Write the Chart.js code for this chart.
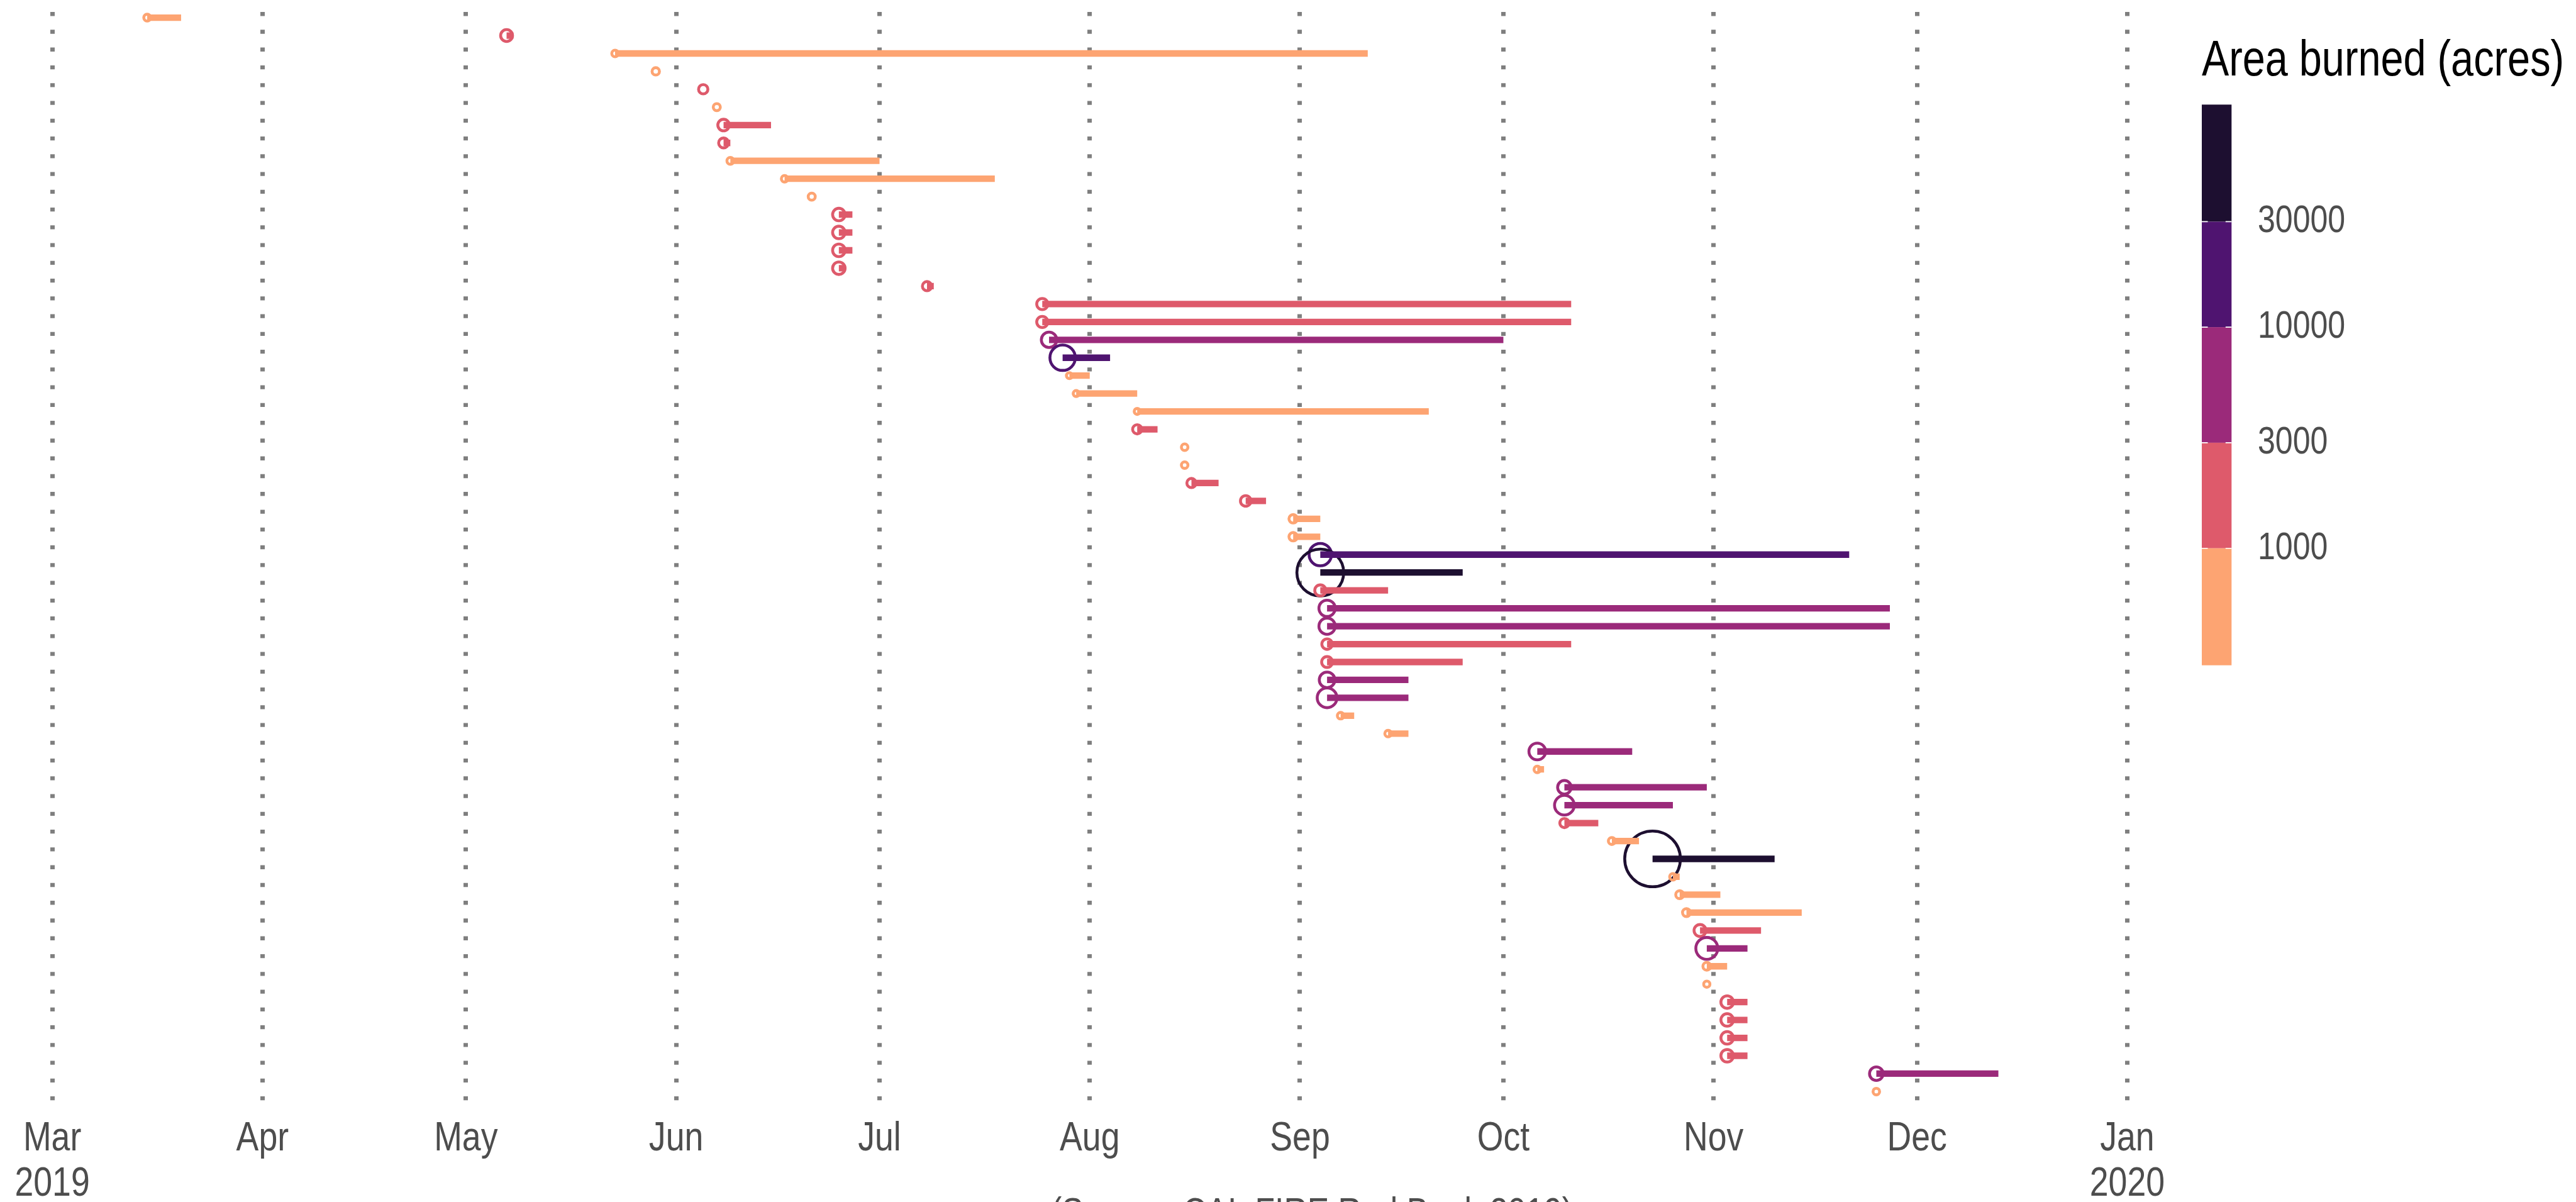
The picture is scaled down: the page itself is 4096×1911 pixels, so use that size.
<!DOCTYPE html>
<html>
<head>
<meta charset="utf-8">
<script src="https://cdn.jsdelivr.net/npm/chart.js@4.4.1/dist/chart.umd.min.js"></script>
<style>
html, body { margin: 0; padding: 0; background: #ffffff; }
canvas { display: block; }
</style>
</head>
<body>
<canvas id="chart" width="4096" height="1911"></canvas>
<script>
// ---------------- DATA ----------------
const startDates = [
  '2019-03-15','2019-05-07','2019-05-23','2019-05-29','2019-06-05','2019-06-07','2019-06-08','2019-06-08',
  '2019-06-09','2019-06-17','2019-06-21','2019-06-25','2019-06-25','2019-06-25','2019-06-25','2019-07-08',
  '2019-07-25','2019-07-25','2019-07-26','2019-07-28','2019-07-29','2019-07-30','2019-08-08','2019-08-08',
  '2019-08-15','2019-08-15','2019-08-16','2019-08-24','2019-08-31','2019-08-31','2019-09-04','2019-09-04',
  '2019-09-04','2019-09-05','2019-09-05','2019-09-05','2019-09-05','2019-09-05','2019-09-05','2019-09-07',
  '2019-09-14','2019-10-06','2019-10-06','2019-10-10','2019-10-10','2019-10-10','2019-10-17','2019-10-23',
  '2019-10-26','2019-10-27','2019-10-28','2019-10-30','2019-10-31','2019-10-31','2019-10-31','2019-11-03',
  '2019-11-03','2019-11-03','2019-11-03','2019-11-25','2019-11-25'
];
const endDates = [
  '2019-03-20','2019-05-08','2019-09-11','2019-05-29','2019-06-05','2019-06-07','2019-06-15','2019-06-09',
  '2019-07-01','2019-07-18','2019-06-21','2019-06-27','2019-06-27','2019-06-27','2019-06-26','2019-07-09',
  '2019-10-11','2019-10-11','2019-10-01','2019-08-04','2019-08-01','2019-08-08','2019-09-20','2019-08-11',
  '2019-08-15','2019-08-15','2019-08-20','2019-08-27','2019-09-04','2019-09-04','2019-11-21','2019-09-25',
  '2019-09-14','2019-11-27','2019-11-27','2019-10-11','2019-09-25','2019-09-17','2019-09-17','2019-09-09',
  '2019-09-17','2019-10-20','2019-10-07','2019-10-31','2019-10-26','2019-10-15','2019-10-21','2019-11-10',
  '2019-10-27','2019-11-02','2019-11-14','2019-11-08','2019-11-06','2019-11-03','2019-10-31','2019-11-06',
  '2019-11-06','2019-11-06','2019-11-06','2019-12-13','2019-11-25'
];
const acresBurned = [
  400, 2200, 350, 520, 1100, 450, 2000, 1300,
  400, 330, 440, 2500, 2500, 2500, 2500, 1050,
  1830, 1830, 4300, 14000, 240, 240, 240, 1050,
  340, 340, 1050, 1540, 800, 800, 10500, 53800,
  1800, 4900, 4900, 1540, 1700, 4400, 7800, 340,
  340, 5200, 340, 3100, 7800, 1050, 440, 77800,
  330, 650, 650, 2200, 9999, 620, 280, 2500,
  2500, 2500, 2500, 3100, 340
];
const monthTickDates = ['2019-03-01','2019-04-01','2019-05-01','2019-06-01','2019-07-01','2019-08-01',
  '2019-09-01','2019-10-01','2019-11-01','2019-12-01','2020-01-01'];
const monthTickLabels = [['Mar','2019'],'Apr','May','Jun','Jul','Aug','Sep','Oct','Nov','Dec',['Jan','2020']];
const legendBreaks = [30000, 10000, 3000, 1000];          // top to bottom
const legendBinColors = ['#1D0F30','#4F1470','#9B2A7A','#DE5A6B','#FDA472']; // top (largest) to bottom
const legendTitle = 'Area burned (acres)';
const captionText = '(Source: CAL FIRE Red Book 2019)';

// ---------------- helpers ----------------
const FONT = "'Liberation Sans', Arial, sans-serif";
const NARROW = 0.82;   // horizontal squeeze to imitate a narrow face
const ORIGIN = Date.UTC(2019, 2, 1);
const dayOf = s => (Date.parse(s + 'T00:00:00Z') - ORIGIN) / 86400000;
const colorFor = a => {
  if (a >= 30000) return legendBinColors[0];
  if (a >= 10000) return legendBinColors[1];
  if (a >= 3000) return legendBinColors[2];
  if (a >= 1000) return legendBinColors[3];
  return legendBinColors[4];
};
const S = 0.817;
const RING_W = 4.6;
const ringRadius = a => ((11.6 + 0.367 * Math.sqrt(a)) * S) / 2 - RING_W / 2;

const rows = startDates.map((_, i) => i);
const barData = rows.map(i => ({ y: i, x: [dayOf(startDates[i]), dayOf(endDates[i])] }));
const pointData = rows.map(i => ({ x: dayOf(startDates[i]), y: i }));
const colors = rows.map(i => colorFor(acresBurned[i]));
const radii = rows.map(i => ringRadius(acresBurned[i]));
const tickDays = monthTickDates.map(dayOf);

// ---------------- narrow text (all text stays real canvas text) ----------------
const narrowTextPlugin = {
  id: 'narrowText',
  beforeInit(chart) {
    const ctx = chart.ctx;
    const orig = ctx.fillText.bind(ctx);
    ctx.fillText = function (text, x, y, maxWidth) {
      ctx.save();
      ctx.translate(x, y);
      ctx.scale(NARROW, 1);
      if (maxWidth !== undefined && maxWidth !== null) orig(text, 0, 0, maxWidth / NARROW);
      else orig(text, 0, 0);
      ctx.restore();
    };
  }
};

// ---------------- colour-bar legend + caption ----------------
const colorbarPlugin = {
  id: 'colorbar',
  afterDraw(chart) {
    const ctx = chart.ctx;
    ctx.save();
    ctx.fillStyle = '#000000';
    ctx.font = `79px ${FONT}`;
    ctx.textAlign = 'left';
    ctx.textBaseline = 'alphabetic';
    ctx.fillText(legendTitle, 3501, 120.3);
    const x0 = 3501, w = 47.3;
    const edges = [166.3, 352.4, 520.1, 703.9, 871.7, 1057.7];
    for (let k = 0; k < legendBinColors.length; k++) {
      ctx.fillStyle = legendBinColors[k];
      ctx.fillRect(x0, edges[k], w, edges[k + 1] - edges[k]);
    }
    ctx.strokeStyle = '#ffffff';
    ctx.lineWidth = 1.6;
    ctx.fillStyle = '#4D4D4D';
    ctx.font = `61px ${FONT}`;
    ctx.textBaseline = 'middle';
    legendBreaks.forEach((b, k) => {
      const y = edges[k + 1];
      ctx.beginPath();
      ctx.moveTo(x0, y); ctx.lineTo(x0 + 9.5, y);
      ctx.moveTo(x0 + w - 9.5, y); ctx.lineTo(x0 + w, y);
      ctx.stroke();
      ctx.fillText(String(b), 3590, y);
    });
    ctx.textAlign = 'center';
    ctx.textBaseline = 'alphabetic';
    ctx.font = `63px ${FONT}`;
    ctx.fillText(captionText, 2086, 1948);
    ctx.restore();
  }
};

// ---------------- chart ----------------
new Chart(document.getElementById('chart'), {
  type: 'bar',
  data: {
    datasets: [
      {
        type: 'bar',
        data: barData,
        backgroundColor: colors,
        borderWidth: 0,
        barThickness: 10.3,
        inflateAmount: 0,
        order: 0
      },
      {
        type: 'scatter',
        data: pointData,
        pointRadius: radii,
        pointHoverRadius: radii,
        pointBorderColor: colors,
        pointBackgroundColor: 'rgba(0,0,0,0)',
        pointBorderWidth: RING_W,
        showLine: false,
        clip: false,
        order: 1
      }
    ]
  },
  options: {
    indexAxis: 'y',
    responsive: false,
    animation: false,
    devicePixelRatio: 1,
    events: [],
    layout: { autoPadding: false, padding: { left: 83.1, right: 713.6, top: 11.0, bottom: 0 } },
    plugins: { legend: { display: false }, tooltip: { enabled: false } },
    scales: {
      x: {
        type: 'linear',
        position: 'bottom',
        min: 0,
        max: 306,
        offset: false,
        afterBuildTicks: s => { s.ticks = tickDays.map(v => ({ value: v })); },
        afterFit: s => { s.height = 158.5; s.paddingLeft = 0; s.paddingRight = 0; },
        grid: {
          display: true,
          offset: false,
          drawTicks: false,
          color: '#7F7F7F',
          lineWidth: 7
        },
        border: { display: false, dash: [6.3, 21.96], dashOffset: 20.16 },
        ticks: {
          autoSkip: false,
          maxRotation: 0,
          minRotation: 0,
          padding: 22.2,
          color: '#4D4D4D',
          font: { family: FONT, size: 65.4, lineHeight: 1.1 },
          callback: (v, i) => monthTickLabels[i]
        }
      },
      y: {
        type: 'linear',
        min: -0.6,
        max: 60.6,
        reverse: true,
        offset: false,
        display: false,
        grid: { display: false, offset: false }
      }
    }
  },
  plugins: [narrowTextPlugin, colorbarPlugin]
});
</script>
</body>
</html>
